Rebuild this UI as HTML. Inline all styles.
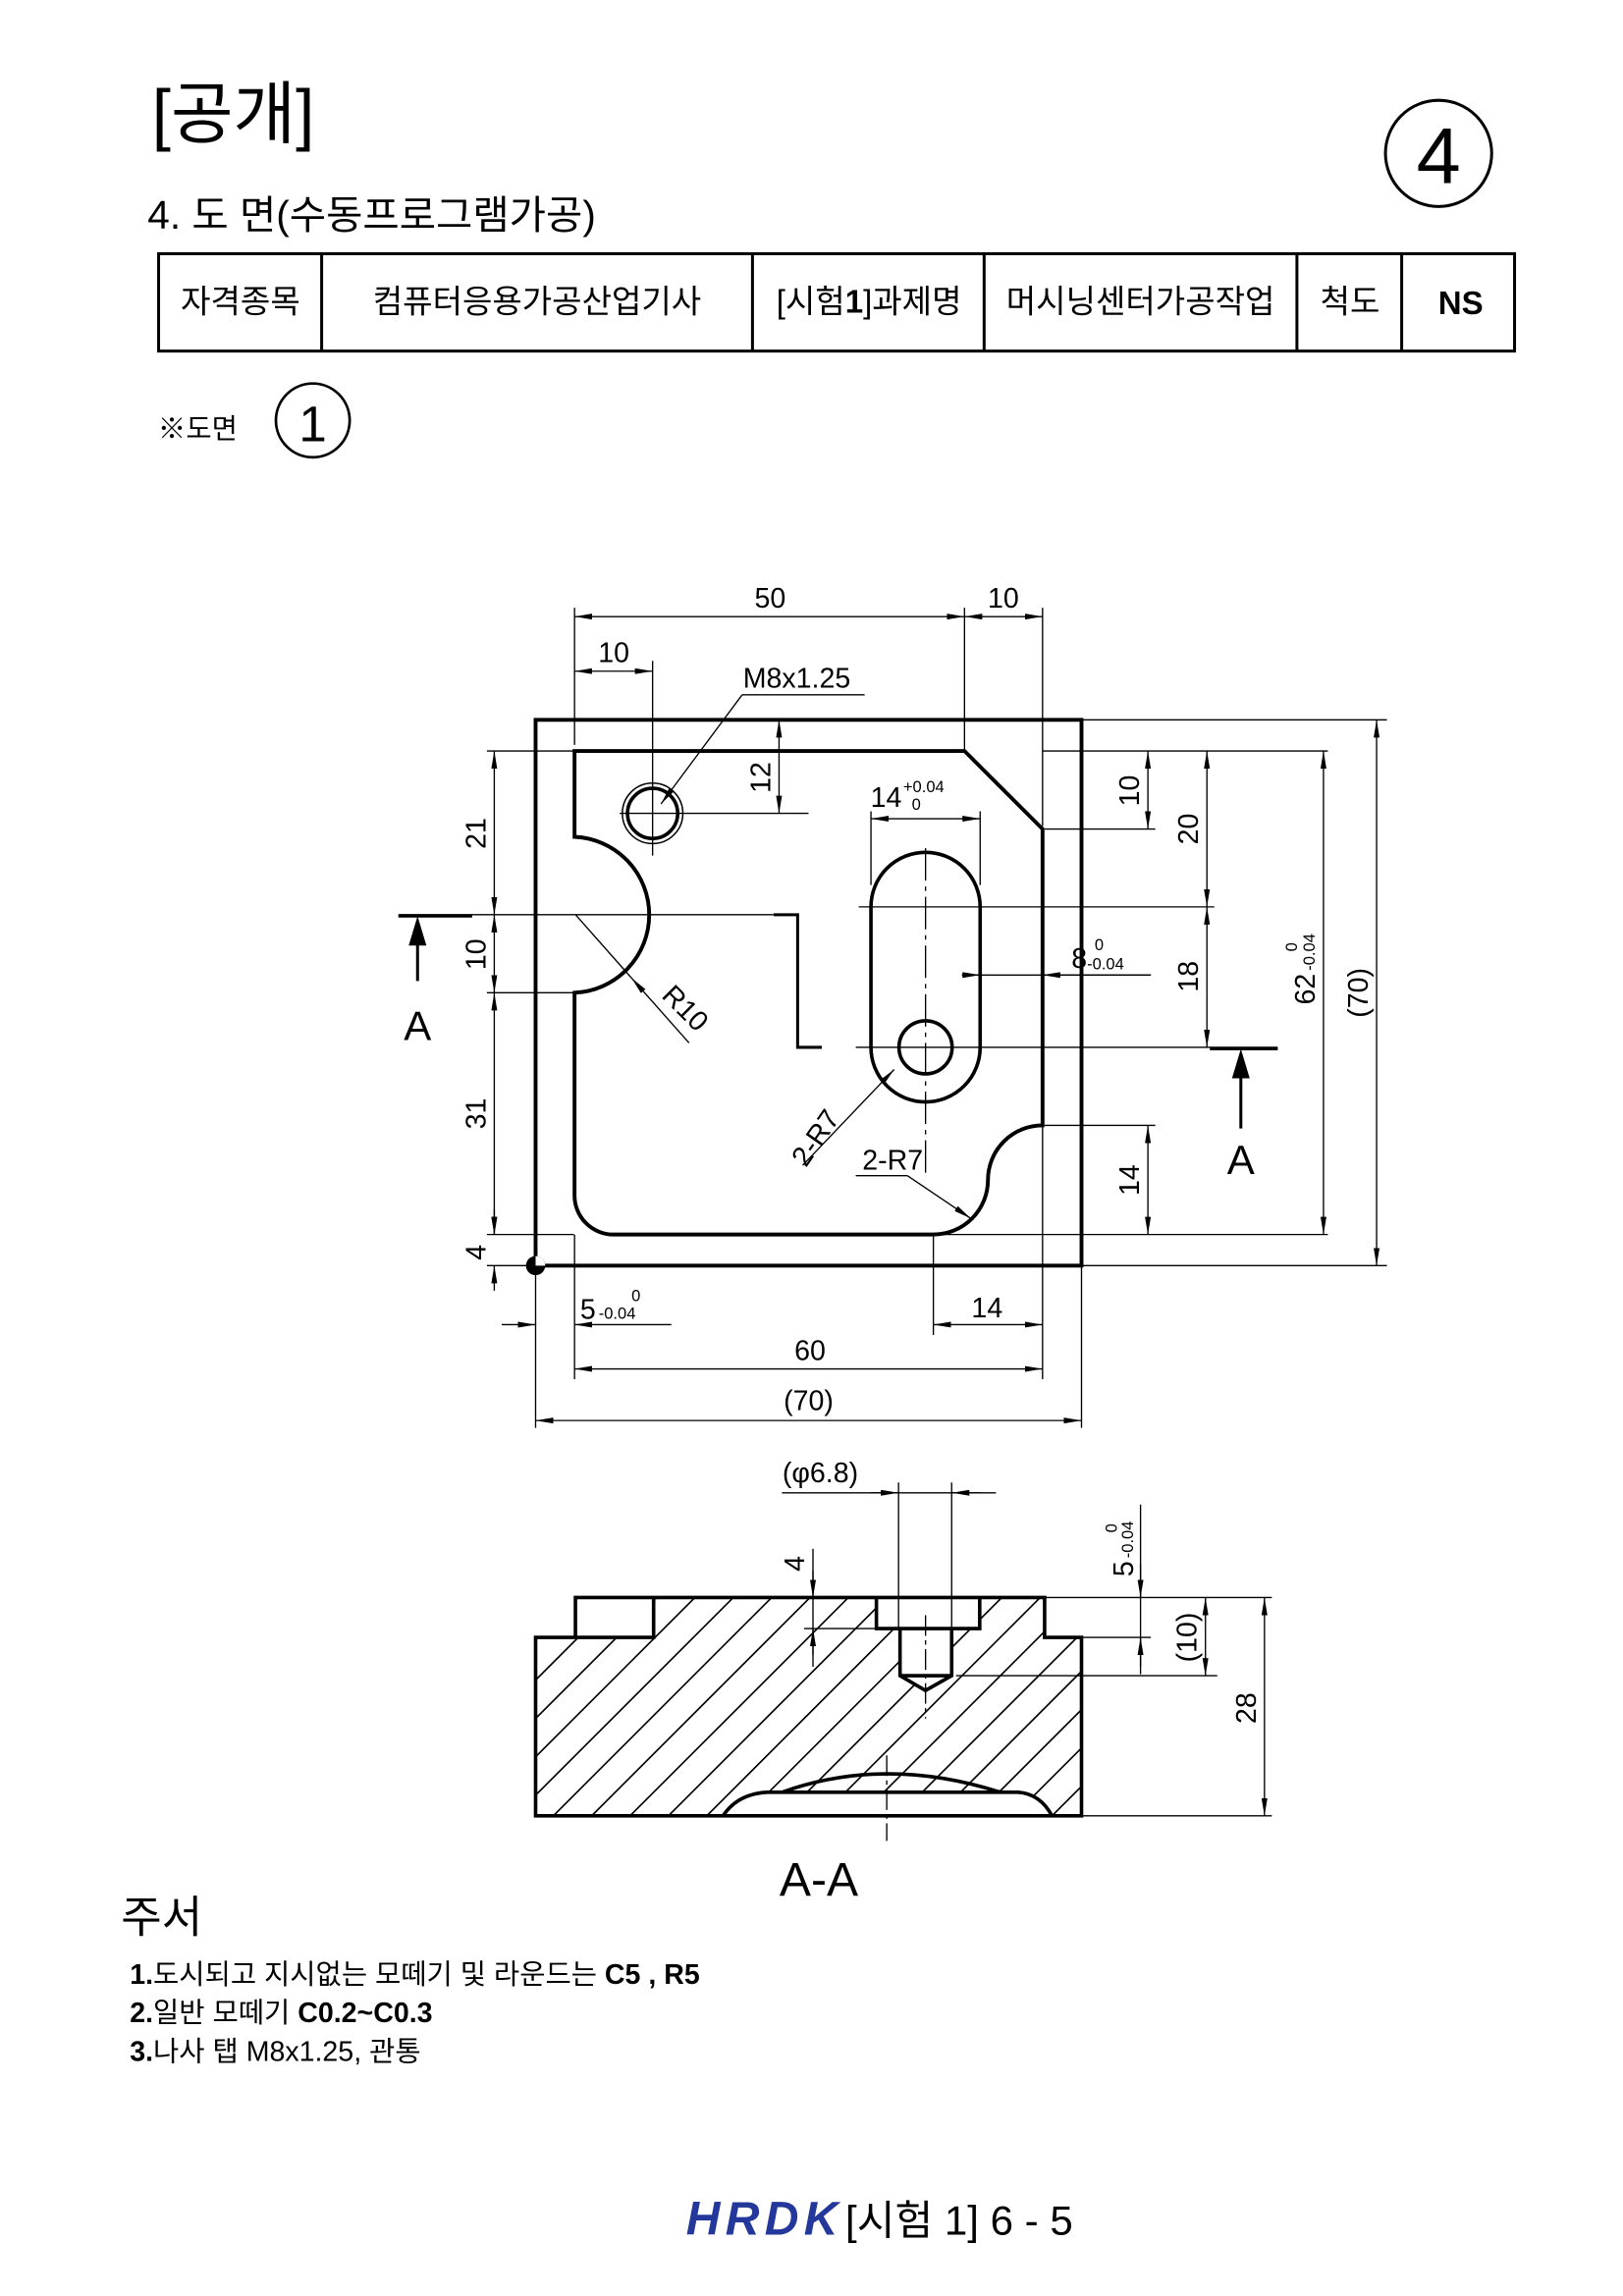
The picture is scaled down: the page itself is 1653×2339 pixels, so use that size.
<!DOCTYPE html>
<html><head><meta charset="utf-8"><style>
html,body{margin:0;padding:0;background:#fff;}
svg{display:block;}
.k{font-family:"Liberation Sans","Noto Sans CJK KR",sans-serif;fill:#000;}
.d{font-family:"Liberation Sans Narrow","Liberation Sans",sans-serif;fill:#000;font-size:19px;}
.s{font-family:"Liberation Sans Narrow","Liberation Sans",sans-serif;fill:#000;font-size:11px;}
</style></head><body>
<svg width="1653" height="2339" viewBox="0 0 1100 1556.5" preserveAspectRatio="none" xmlns="http://www.w3.org/2000/svg">
<defs>
<marker id="a" viewBox="0 0 12 4" refX="12" refY="2" markerWidth="12" markerHeight="4" markerUnits="userSpaceOnUse" orient="auto-start-reverse"><path d="M0,0 L12,2 L0,4 z" fill="#000"/></marker>
<clipPath id="sec"><path d="M363,1110 H390 V1083 H708 V1110 H733 V1231 H363 Z"/></clipPath>
</defs>

<!-- header -->
<text class="k" x="103" y="93" font-size="46">[공개]</text>
<circle cx="975" cy="104" r="36" fill="none" stroke="#000" stroke-width="2"/>
<text class="k" x="975" y="124" font-size="54" text-anchor="middle">4</text>
<text class="k" x="100" y="155" font-size="27">4.  도  면(수동프로그램가공)</text>
<g fill="none" stroke="#000" stroke-width="2">
<rect x="107.5" y="172" width="919" height="66"/>
<path d="M218,172V238 M510,172V238 M667,172V238 M879,172V238 M950,172V238"/>
</g>
<g class="k" font-size="22" text-anchor="middle">
<text x="163" y="212">자격종목</text>
<text x="364" y="212">컴퓨터응용가공산업기사</text>
<text x="589" y="212">[시험<tspan font-weight="bold">1</tspan>]과제명</text>
<text x="773" y="212">머시닝센터가공작업</text>
<text x="915" y="212">척도</text>
<text x="990" y="213" font-weight="bold">NS</text>
</g>
<text class="k" x="107" y="297" font-size="19">※도면</text>
<circle cx="212" cy="285" r="25" fill="none" stroke="#000" stroke-width="1.8"/>
<text class="k" x="212" y="299" font-size="34" text-anchor="middle">1</text>

<!-- main view geometry -->
<g fill="none" stroke="#000">
<rect x="363" y="488" width="370" height="370" stroke-width="2.6"/>
<path stroke-width="2.6" d="M389.4,509.1 H653.7 L706.6,562 V762.9 A37,37 0 0 0 669.6,799.9 A37,37 0 0 1 632.6,836.9 H415.9 A26.4,26.4 0 0 1 389.4,810.4 V673 A52.9,52.9 0 0 0 389.4,567.3 Z"/>
<path stroke-width="2.4" d="M590.3,614.8 A37,37 0 0 1 664.3,614.8 V710 A37,37 0 0 1 590.3,710 Z"/>
<circle cx="627.3" cy="710" r="18" stroke-width="2.4"/>
<circle cx="442.3" cy="551.4" r="17" stroke-width="2.4"/>
<circle cx="442.3" cy="551.4" r="20.5" stroke-width="1"/>
<path stroke-width="2" d="M524.2,620.1 H540.6 V710 H557"/>
</g>
<circle cx="363" cy="858" r="6.5" fill="#000"/>
<path d="M363,851.5 A6.5,6.5 0 0 1 369.5,858 H363 Z" fill="#fff"/>

<!-- center lines & thin lines -->
<g stroke="#000" stroke-width="0.9" fill="none">
<path d="M627.3,575 V795" stroke-dasharray="22,4,3,4"/>
<path d="M582,614.8 H823 M580,710 H866"/>
<path d="M420,551.4 H548 M442.3,448 V580"/>
<path d="M270,620.1 H524"/>
<path d="M389.4,412 V505 M653.7,412 V508 M706.6,412 V560"/>
<path d="M590.3,550 V600 M664.3,550 V600"/>
<path d="M733,488 H940 M706.6,509.1 H900 M708,562 H783 M708,762.9 H783 M632.6,836.9 H900 M733,858 H940"/>
<path d="M330,509.1 H389 M330,673 H389 M330,836.9 H389 M330,858 H363"/>
<path d="M632.6,837 V905 M706.6,763 V935 M389.4,837 V935 M363,858 V968 M733,858 V968"/>
</g>

<!-- dimension lines -->
<g stroke="#000" stroke-width="0.9" fill="none" marker-start="url(#a)" marker-end="url(#a)">
<path d="M389.4,418 H653.7"/>
<path d="M653.7,418 H706.6"/>
<path d="M389.4,455 H442.3"/>
<path d="M528,488 V551.4"/>
<path d="M590.3,555 H664.3"/>
<path d="M778,509.1 V562"/>
<path d="M818,509.1 V614.8"/>
<path d="M818,614.8 V710"/>
<path d="M778,762.9 V836.9"/>
<path d="M897,509.1 V836.9"/>
<path d="M933,488 V858"/>
<path d="M335,509.1 V620.1"/>
<path d="M335,620.1 V673"/>
<path d="M335,673 V836.9"/>
<path d="M632.6,898 H706.6"/>
<path d="M389.4,928 H706.6"/>
<path d="M363,963 H733"/>
</g>
<g stroke="#000" stroke-width="0.9" fill="none" marker-end="url(#a)">
<path d="M335,875 V858"/><path d="M335,820 V836.9"/>
<path d="M652,661 H664.3"/><path d="M780,661 H706.6"/>
<path d="M340,898 H363"/><path d="M455,898 H389.4"/>
<path d="M503,471 L448,545"/>
<path d="M467,707 L428,663"/>
<path d="M544,790 L606,725"/>
<path d="M615,797 L658,826"/>
</g>
<g stroke="#000" stroke-width="0.9" fill="none">
<path d="M503,471 H586 M428,663 L390,620 M580,797 H615 M652,661 H780"/>
</g>
<!-- section arrows -->
<g stroke="#000" stroke-width="2" fill="none">
<path d="M270,621 H320 M820,711 H866"/>
<path d="M283,665 V636 M841,765 V726"/>
</g>
<path d="M283,621 L277,641 L289,641 Z M841,711 L835,731 L847,731 Z" fill="#000"/>
<text class="k" x="283" y="705" font-size="28" text-anchor="middle">A</text>
<text class="k" x="841" y="796" font-size="28" text-anchor="middle">A</text>

<!-- dim texts -->
<g class="d" text-anchor="middle">
<text x="522" y="412">50</text>
<text x="680" y="412">10</text>
<text x="416" y="449">10</text>
<text x="540" y="466">M8x1.25</text>
<text x="615" y="547">14<tspan class="s" dx="1" dy="-10">+0.04</tspan></text>
<text class="s" x="621" y="549">0</text>
<text x="744" y="656">8<tspan class="s" dy="1">-0.04</tspan></text>
<text class="s" x="745" y="644">0</text>
<text x="605" y="793">2-R7</text>
<text x="669" y="893">14</text>
<text x="549" y="922">60</text>
<text x="548" y="956">(70)</text>
<text x="412" y="894">5<tspan class="s" dx="2">-0.04</tspan></text>
<text class="s" x="431" y="882">0</text>
<text transform="translate(522,527) rotate(-90)">12</text>
<text transform="translate(772,536) rotate(-90)">10</text>
<text transform="translate(812,562) rotate(-90)">20</text>
<text transform="translate(812,662) rotate(-90)">18</text>
<text transform="translate(772,800) rotate(-90)">14</text>
<text transform="translate(891,657) rotate(-90)">62<tspan class="s" dx="2">-0.04</tspan></text>
<text class="s" transform="translate(879,642) rotate(-90)">0</text>
<text transform="translate(927,673) rotate(-90)">(70)</text>
<text transform="translate(329,565) rotate(-90)">21</text>
<text transform="translate(329,647) rotate(-90)">10</text>
<text transform="translate(329,755) rotate(-90)">31</text>
<text transform="translate(329,849) rotate(-90)">4</text>
<text transform="translate(460,688) rotate(45)">R10</text>
<text transform="translate(558,775) rotate(-55)">2-R7</text>
</g>

<!-- section view -->
<g clip-path="url(#sec)" stroke="#000" stroke-width="1.1">
<path d="M340,1240 L520,1060 M366,1240 L546,1060 M392,1240 L572,1060 M418,1240 L598,1060 M444,1240 L624,1060 M470,1240 L650,1060 M496,1240 L676,1060 M522,1240 L702,1060 M548,1240 L728,1060 M574,1240 L754,1060 M600,1240 L780,1060 M626,1240 L806,1060 M652,1240 L832,1060 M678,1240 L858,1060 M704,1240 L884,1060 M730,1240 L910,1060 M314,1240 L494,1060 M288,1240 L468,1060 M262,1240 L442,1060"/>
</g>
<g fill="#fff" stroke="none">
<rect x="391" y="1084" width="51" height="25"/>
<rect x="594" y="1084" width="70" height="20"/>
<rect x="610" y="1104" width="35" height="32"/>
<path d="M610,1136 L627.3,1146 L645,1136 Z"/>
<path d="M490,1231 Q500,1216 520,1215 H690 Q705,1216 713,1231 Z"/>
</g>
<g fill="none" stroke="#000" stroke-width="2.4">
<path d="M363,1110 H390 V1083 H708 V1110 H733 V1231 H363 Z"/>
<path d="M390,1110 H443 V1083"/>
<path d="M594,1083 V1104 H664 V1083"/>
<path d="M610,1104 V1136 L627.3,1146 L645,1136 V1104 M610,1136 H645"/>
<path d="M490,1231 Q500,1216 520,1215 H690 Q705,1216 713,1231"/>
<path d="M530,1215 Q600,1190 678,1215"/>
</g>
<g stroke="#000" stroke-width="0.9" fill="none">
<path d="M601,1190 V1248 M627.3,1095 V1165" stroke-dasharray="14,3,3,3"/>
<path d="M609,1005 V1103 M645,1005 V1103"/>
<path d="M545,1104 H593"/>
<path d="M733,1110 H780 M708,1083 H862 M648,1136 H825 M733,1231 H862"/>
<path d="M530,1012 H675"/>
<path d="M551,1050 V1130"/>
<path d="M773,1020 V1135"/>
</g>
<g stroke="#000" stroke-width="0.9" fill="none" marker-end="url(#a)">
<path d="M590,1012 H609"/><path d="M665,1012 H645"/>
<path d="M551,1065 V1083"/><path d="M551,1122 V1104"/>
<path d="M773,1060 V1083"/><path d="M773,1130 V1110"/>
</g>
<g stroke="#000" stroke-width="0.9" fill="none" marker-start="url(#a)" marker-end="url(#a)">
<path d="M817,1083 V1136"/>
<path d="M857,1083 V1231"/>
</g>
<g class="d" text-anchor="middle">
<text x="556" y="1005">(φ6.8)</text>
<text transform="translate(545,1060) rotate(-90)">4</text>
<text transform="translate(768,1050) rotate(-90)">5<tspan class="s" dx="2">-0.04</tspan></text>
<text class="s" transform="translate(757,1036) rotate(-90)">0</text>
<text transform="translate(811,1110) rotate(-90)">(10)</text>
<text transform="translate(851,1158) rotate(-90)">28</text>
</g>
<text class="k" x="555" y="1285" font-size="32" text-anchor="middle">A-A</text>

<!-- notes -->
<text class="k" x="82" y="1310" font-size="30">주서</text>
<g class="k" font-size="19">
<text x="88" y="1345"><tspan font-weight="bold">1.</tspan>도시되고 지시없는 모떼기 및 라운드는 <tspan font-weight="bold">C5 , R5</tspan></text>
<text x="88" y="1371"><tspan font-weight="bold">2.</tspan>일반 모떼기 <tspan font-weight="bold">C0.2~C0.3</tspan></text>
<text x="88" y="1397"><tspan font-weight="bold">3.</tspan>나사 탭 M8x1.25, 관통</text>
</g>

<!-- footer -->
<text x="465" y="1515" font-family="Liberation Sans, sans-serif" font-size="32" font-weight="bold" font-style="italic" fill="#23389a" textLength="103">HRDK</text>
<text class="k" x="573" y="1515" font-size="28">[시험 1] 6 - 5</text>
</svg>
</body></html>
